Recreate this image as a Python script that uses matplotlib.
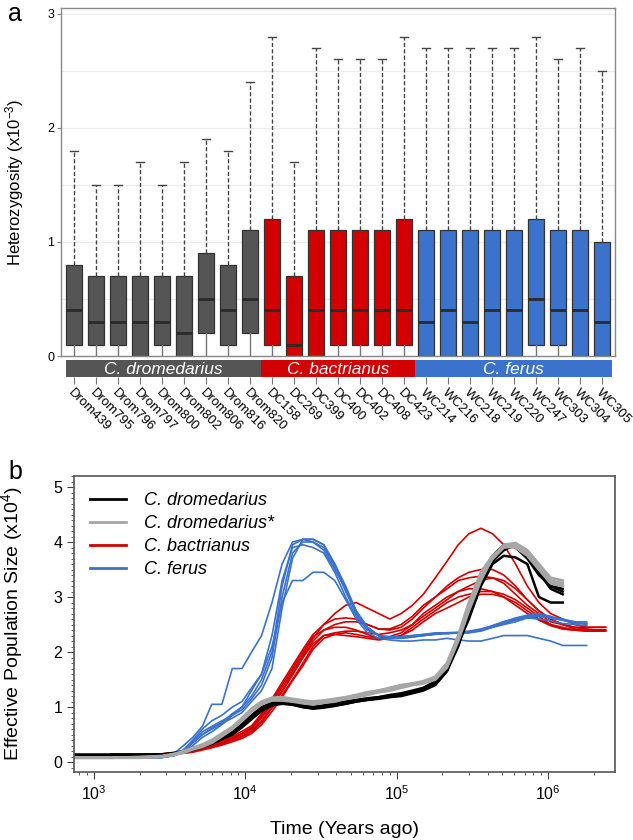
import matplotlib
matplotlib.use("Agg")
import matplotlib.pyplot as plt
from matplotlib.patches import Rectangle
from matplotlib.ticker import MultipleLocator, LogLocator, NullFormatter

plt.rcParams['font.family'] = ['Liberation Sans', 'DejaVu Sans']
plt.rcParams['mathtext.default'] = 'regular'

# ---------------- panel a: heterozygosity boxes ----------------
samples = ["Drom439", "Drom795", "Drom796", "Drom797", "Drom800", "Drom802", "Drom806", "Drom816", "Drom820",
           "DC158", "DC269", "DC399", "DC400", "DC402", "DC408", "DC423",
           "WC214", "WC216", "WC218", "WC219", "WC220", "WC247", "WC303", "WC304", "WC305"]
species = ["C. dromedarius", "C. bactrianus", "C. ferus"]
species_n = [9, 7, 9]
q1 = [0.1, 0.1, 0.1, 0.0, 0.1, 0.0, 0.2, 0.1, 0.2,
      0.1, 0.0, 0.0, 0.1, 0.1, 0.1, 0.1,
      0.0, 0.0, 0.0, 0.0, 0.0, 0.1, 0.1, 0.0, 0.0]
med = [0.4, 0.3, 0.3, 0.3, 0.3, 0.2, 0.5, 0.4, 0.5,
       0.4, 0.1, 0.4, 0.4, 0.4, 0.4, 0.4,
       0.3, 0.4, 0.3, 0.4, 0.4, 0.5, 0.4, 0.4, 0.3]
q3 = [0.8, 0.7, 0.7, 0.7, 0.7, 0.7, 0.9, 0.8, 1.1,
      1.2, 0.7, 1.1, 1.1, 1.1, 1.1, 1.2,
      1.1, 1.1, 1.1, 1.1, 1.1, 1.2, 1.1, 1.1, 1.0]
whi = [1.8, 1.5, 1.5, 1.7, 1.5, 1.7, 1.9, 1.8, 2.4,
       2.8, 1.7, 2.7, 2.6, 2.6, 2.6, 2.8,
       2.7, 2.7, 2.7, 2.7, 2.7, 2.8, 2.6, 2.7, 2.5]

col_drom = "#555555"
col_bact = "#d20000"
col_ferus = "#3a72cc"
species_cols = [col_drom, col_bact, col_ferus]

# ---------------- panel b: PSMC curves (time in years, Ne x10^4) ----------------
t_bf = [1300, 2000, 2800, 3400, 3900, 4500, 5200, 6000, 7000, 8200, 9500, 11000, 12800, 15000,
        17500, 20500, 24000, 28000, 33000, 39000, 46000, 54000, 64000, 76000, 90000, 107000,
        127000, 150000, 180000, 215000, 255000, 300000, 360000, 430000, 510000, 610000, 730000,
        870000, 1040000, 1250000, 1500000, 1800000]
t_red = t_bf + [2100000, 2400000]
t_drom = [700] + t_bf[:-2]

ferus = [
    [0.08, 0.08, 0.09, 0.13, 0.22, 0.38, 0.55, 0.65, 0.75, 0.85, 0.95, 1.15, 1.4, 1.9, 3.0, 3.8, 4.0, 4.0, 3.9, 3.55, 3.1,
     2.7, 2.45, 2.3, 2.25, 2.25, 2.27, 2.3, 2.32, 2.35, 2.35, 2.35, 2.38, 2.45, 2.5, 2.55, 2.62, 2.65, 2.62, 2.58, 2.52, 2.52],
    [0.08, 0.08, 0.1, 0.16, 0.3, 0.45, 0.65, 1.05, 1.05, 1.7, 1.7, 2.0, 2.3, 2.9, 3.6, 4.0, 4.05, 4.0, 3.85, 3.5, 3.15,
     2.75, 2.45, 2.3, 2.25, 2.28, 2.3, 2.32, 2.35, 2.35, 2.35, 2.35, 2.4, 2.48, 2.55, 2.6, 2.65, 2.68, 2.62, 2.58, 2.55, 2.55],
    [0.08, 0.08, 0.08, 0.12, 0.2, 0.35, 0.5, 0.6, 0.7, 0.8, 0.9, 1.1, 1.3, 1.7, 2.8, 3.7, 4.05, 4.05, 3.95, 3.6, 3.2,
     2.75, 2.45, 2.3, 2.25, 2.25, 2.28, 2.3, 2.33, 2.33, 2.35, 2.37, 2.4, 2.45, 2.52, 2.58, 2.63, 2.66, 2.63, 2.6, 2.55, 2.5],
    [0.08, 0.08, 0.09, 0.12, 0.18, 0.3, 0.45, 0.55, 0.68, 0.85, 1.0, 1.3, 1.6, 2.3, 3.3, 3.9, 3.95, 3.9, 3.8, 3.45, 3.0,
     2.65, 2.4, 2.3, 2.27, 2.26, 2.28, 2.3, 2.33, 2.35, 2.36, 2.38, 2.42, 2.48, 2.55, 2.6, 2.62, 2.6, 2.57, 2.52, 2.5, 2.48],
    [0.08, 0.08, 0.09, 0.13, 0.22, 0.4, 0.6, 0.75, 0.85, 1.0, 1.1, 1.35, 1.6, 2.1, 2.9, 3.3, 3.3, 3.45, 3.45, 3.3, 2.95,
     2.6, 2.35, 2.25, 2.22, 2.2, 2.2, 2.22, 2.22, 2.25, 2.22, 2.2, 2.2, 2.25, 2.3, 2.3, 2.3, 2.25, 2.2, 2.12, 2.12, 2.12],
    [0.08, 0.08, 0.08, 0.12, 0.2, 0.35, 0.5, 0.62, 0.72, 0.88, 1.0, 1.2, 1.5, 2.0, 3.2, 3.95, 4.05, 4.05, 3.95, 3.6, 3.15,
     2.7, 2.42, 2.3, 2.28, 2.28, 2.3, 2.32, 2.33, 2.35, 2.35, 2.36, 2.4, 2.46, 2.55, 2.62, 2.67, 2.7, 2.65, 2.58, 2.53, 2.52],
]

bactrianus = [
    [0.15, 0.15, 0.15, 0.17, 0.2, 0.24, 0.3, 0.33, 0.38, 0.44, 0.52, 0.62, 0.82, 1.1, 1.35, 1.65, 1.95, 2.25, 2.5, 2.7, 2.85,
     2.9, 2.8, 2.7, 2.6, 2.7, 2.85, 3.05, 3.35, 3.65, 3.95, 4.15, 4.25, 4.15, 3.95, 3.6, 3.2, 2.9, 2.7, 2.6, 2.5, 2.45, 2.45, 2.45],
    [0.15, 0.15, 0.15, 0.15, 0.18, 0.22, 0.27, 0.3, 0.35, 0.42, 0.5, 0.6, 0.8, 1.05, 1.3, 1.6, 1.9, 2.2, 2.4, 2.5, 2.55,
     2.55, 2.5, 2.42, 2.4, 2.45, 2.6, 2.8, 3.0, 3.2, 3.35, 3.45, 3.5, 3.5, 3.4, 3.2, 2.95, 2.75, 2.6, 2.5, 2.45, 2.42, 2.4, 2.4],
    [0.15, 0.15, 0.15, 0.15, 0.17, 0.2, 0.24, 0.28, 0.33, 0.4, 0.46, 0.55, 0.72, 0.98, 1.22, 1.5, 1.8, 2.1, 2.3, 2.35, 2.38,
     2.38, 2.35, 2.32, 2.35, 2.4, 2.5, 2.65, 2.8, 2.95, 3.1, 3.2, 3.3, 3.35, 3.3, 3.15, 2.95, 2.75, 2.6, 2.5, 2.42, 2.4, 2.4, 2.4],
    [0.15, 0.15, 0.15, 0.16, 0.18, 0.22, 0.27, 0.32, 0.38, 0.44, 0.52, 0.63, 0.85, 1.12, 1.4, 1.7, 2.0, 2.28, 2.4, 2.45, 2.45,
     2.4, 2.32, 2.25, 2.25, 2.3, 2.4, 2.55, 2.7, 2.8, 2.9, 3.0, 3.05, 3.05, 3.0, 2.9, 2.75, 2.6, 2.5, 2.42, 2.4, 2.38, 2.38, 2.38],
    [0.15, 0.15, 0.15, 0.15, 0.17, 0.19, 0.24, 0.28, 0.34, 0.4, 0.47, 0.57, 0.75, 1.0, 1.28, 1.58, 1.9, 2.15, 2.3, 2.32, 2.3,
     2.28, 2.25, 2.22, 2.25, 2.3, 2.45, 2.6, 2.75, 2.9, 3.0, 3.05, 3.1, 3.1, 3.05, 2.95, 2.8, 2.65, 2.5, 2.45, 2.4, 2.38, 2.38, 2.38],
    [0.15, 0.15, 0.15, 0.16, 0.19, 0.23, 0.28, 0.33, 0.4, 0.47, 0.56, 0.66, 0.88, 1.15, 1.45, 1.75, 2.05, 2.32, 2.5, 2.6, 2.62,
     2.6, 2.5, 2.42, 2.42, 2.5, 2.65, 2.85, 3.0, 3.15, 3.3, 3.35, 3.38, 3.35, 3.25, 3.05, 2.85, 2.7, 2.55, 2.5, 2.45, 2.45, 2.45, 2.45],
    [0.15, 0.15, 0.15, 0.15, 0.16, 0.18, 0.22, 0.26, 0.31, 0.37, 0.43, 0.52, 0.68, 0.92, 1.18, 1.48, 1.75, 2.05, 2.25, 2.32, 2.35,
     2.32, 2.28, 2.25, 2.28, 2.35, 2.5, 2.7, 2.85, 3.0, 3.1, 3.15, 3.15, 3.1, 3.0, 2.85, 2.7, 2.58, 2.48, 2.42, 2.4, 2.4, 2.4, 2.4],
]

dromedarius = [
    [0.13, 0.13, 0.13, 0.14, 0.17, 0.2, 0.25, 0.3, 0.35, 0.43, 0.52, 0.66, 0.82, 0.97, 1.05, 1.08, 1.05, 1.0, 0.98, 1.0, 1.03,
     1.06, 1.1, 1.13, 1.15, 1.18, 1.2, 1.25, 1.3, 1.4, 1.65, 2.15, 2.6, 3.2, 3.6, 3.75, 3.72, 3.6, 3.0, 2.9, 2.9],
    [0.13, 0.13, 0.12, 0.13, 0.15, 0.18, 0.22, 0.28, 0.33, 0.42, 0.5, 0.63, 0.78, 0.93, 1.03, 1.08, 1.06, 1.02, 1.0, 1.02, 1.05,
     1.08, 1.12, 1.15, 1.18, 1.2, 1.23, 1.28, 1.33, 1.45, 1.7, 2.2, 2.75, 3.3, 3.7, 3.9, 3.92, 3.75, 3.45, 3.2, 3.1],
    [0.13, 0.13, 0.13, 0.13, 0.16, 0.19, 0.24, 0.3, 0.36, 0.45, 0.55, 0.69, 0.85, 1.0, 1.08, 1.1, 1.07, 1.03, 1.0, 1.03, 1.07,
     1.1, 1.13, 1.16, 1.18, 1.22, 1.25, 1.3, 1.35, 1.47, 1.72, 2.25, 2.85, 3.4, 3.75, 3.95, 3.9, 3.7, 3.4, 3.2, 3.15],
    [0.13, 0.13, 0.13, 0.14, 0.15, 0.18, 0.23, 0.28, 0.34, 0.43, 0.53, 0.66, 0.8, 0.95, 1.03, 1.06, 1.04, 1.0, 0.97, 0.99, 1.02,
     1.06, 1.1, 1.13, 1.16, 1.19, 1.22, 1.27, 1.32, 1.43, 1.66, 2.1, 2.7, 3.25, 3.65, 3.85, 3.95, 3.8, 3.45, 3.15, 3.05],
]

dromedarius_star = [
    [0.08, 0.08, 0.08, 0.1, 0.14, 0.18, 0.25, 0.3, 0.38, 0.5, 0.62, 0.78, 0.95, 1.08, 1.15, 1.15, 1.12, 1.1, 1.08, 1.1, 1.13,
     1.17, 1.2, 1.25, 1.3, 1.33, 1.38, 1.42, 1.45, 1.52, 1.75, 2.25, 2.8, 3.35, 3.7, 3.92, 3.95, 3.8, 3.55, 3.3, 3.25],
    [0.08, 0.08, 0.09, 0.11, 0.15, 0.2, 0.26, 0.32, 0.4, 0.52, 0.64, 0.8, 0.97, 1.1, 1.17, 1.18, 1.15, 1.12, 1.1, 1.12, 1.15,
     1.18, 1.22, 1.27, 1.3, 1.35, 1.4, 1.43, 1.47, 1.55, 1.8, 2.3, 2.9, 3.45, 3.75, 3.92, 3.9, 3.75, 3.5, 3.25, 3.2],
    [0.08, 0.08, 0.08, 0.1, 0.13, 0.17, 0.23, 0.28, 0.35, 0.47, 0.6, 0.75, 0.92, 1.05, 1.12, 1.12, 1.1, 1.07, 1.05, 1.08, 1.1,
     1.15, 1.18, 1.22, 1.27, 1.3, 1.35, 1.4, 1.43, 1.5, 1.72, 2.2, 2.75, 3.3, 3.72, 3.95, 3.98, 3.85, 3.6, 3.35, 3.3],
    [0.08, 0.08, 0.09, 0.1, 0.14, 0.19, 0.24, 0.3, 0.37, 0.48, 0.6, 0.77, 0.93, 1.06, 1.14, 1.16, 1.13, 1.1, 1.08, 1.1, 1.12,
     1.16, 1.2, 1.24, 1.28, 1.32, 1.37, 1.41, 1.45, 1.53, 1.77, 2.27, 2.85, 3.38, 3.7, 3.9, 3.92, 3.78, 3.52, 3.28, 3.2],
]

W, H = 633, 840
fig = plt.figure(figsize=(W / 100, H / 100), dpi=100)

# ---- panel a ----
ax1 = fig.add_axes([61 / W, 1 - 356 / H, 554 / W, 348 / H])
pos = list(range(1, len(samples) + 1))
box_cols = []
for c, n in zip(species_cols, species_n):
    box_cols += [c] * n

stats = []
for i in range(len(samples)):
    stats.append(dict(q1=q1[i], med=med[i], q3=q3[i], whislo=0.0, whishi=whi[i], fliers=[]))

bp = ax1.bxp(stats, positions=pos, widths=0.76, patch_artist=True, showfliers=False,
             capwidths=0.36,
             boxprops=dict(edgecolor="#333333", linewidth=0.9),
             medianprops=dict(color="#2a2a2a", linewidth=2.0),
             whiskerprops=dict(color="#444444", linewidth=1.0, linestyle=(0, (3, 1.6))),
             capprops=dict(color="#444444", linewidth=1.0))
for patch, c in zip(bp['boxes'], box_cols):
    patch.set_facecolor(c)
for k, w in enumerate(bp['whiskers']):
    if k % 2 == 0:
        w.set_linestyle('-')
        w.set_color('#777777')
for k, cap in enumerate(bp['caps']):
    if k % 2 == 0:
        cap.set_visible(False)

ax1.set_xlim(0.41, 25.59)
ax1.set_ylim(0, 3.05)
ax1.set_yticks([0, 1, 2, 3])
ax1.set_yticks([0.5, 1.5, 2.5], minor=True)
ax1.grid(axis='y', which='both', color='#ececec', linewidth=0.9)
ax1.set_axisbelow(True)
ax1.set_xticks([])
ax1.tick_params(axis='y', which='major', length=3, color='#888888', labelsize=9, pad=2)
ax1.tick_params(axis='y', which='minor', length=0)
for s in ax1.spines.values():
    s.set_color('#888888')
    s.set_linewidth(1.0)
ax1.set_ylabel("Heterozygosity (x10$^{-3}$)", fontsize=12)
ax1.yaxis.set_label_coords(-0.064, 0.5)

# species band under panel a
axb = fig.add_axes([61 / W, 1 - 377 / H, 554 / W, 17 / H])
axb.set_xlim(0.41, 25.59)
axb.set_ylim(0, 1)
start = 0.64
for name, n, c in zip(species, species_n, species_cols):
    end = start + n if start > 1 else 0.5 + n
    if name == species[-1]:
        end = 25.45
    axb.add_patch(Rectangle((start, 0), end - start, 1, facecolor=c, edgecolor='none'))
    axb.text((start + end) / 2, 0.45, name, color='white', style='italic', fontsize=12.5,
             ha='center', va='center')
    start = end
for s in axb.spines.values():
    s.set_visible(False)
axb.set_yticks([])
axb.set_xticks(pos)
axb.set_xticklabels(samples, rotation=-45, ha='left', va='top', rotation_mode='anchor', fontsize=9.5)
axb.tick_params(axis='x', length=5, color='#777777', pad=2)

fig.text(8 / W, 1 - 2 / H, "a", fontsize=18, ha='left', va='top')

# ---- panel b ----
ax2 = fig.add_axes([74 / W, 1 - 772 / H, 541 / W, 296 / H])
ax2.set_xscale('log')
for y in bactrianus:
    ax2.plot(t_red, y, color=col_bact, lw=1.2)
for y in ferus:
    ax2.plot(t_bf, y, color=col_ferus, lw=1.2)
for y in dromedarius:
    ax2.plot(t_drom, y, color='black', lw=1.8)
for y in dromedarius_star:
    ax2.plot(t_drom, y, color='#a6a6a6', lw=2.0)

ax2.plot([], [], color='black', lw=2, label="C. dromedarius")
ax2.plot([], [], color='#a6a6a6', lw=2, label="C. dromedarius*")
ax2.plot([], [], color=col_bact, lw=2, label="C. bactrianus")
ax2.plot([], [], color=col_ferus, lw=2, label="C. ferus")
leg = ax2.legend(loc='upper left', frameon=False, fontsize=13, handlelength=2.0,
                 handletextpad=1.0, labelspacing=0.33, borderaxespad=0.5)
for t in leg.get_texts():
    t.set_style('italic')

ax2.set_xlim(738, 2.77e6)
ax2.set_ylim(-0.18, 5.2)
ax2.xaxis.set_major_locator(LogLocator(base=10, numticks=10))
ax2.xaxis.set_minor_locator(LogLocator(base=10, subs=range(2, 10), numticks=20))
ax2.xaxis.set_minor_formatter(NullFormatter())
ax2.yaxis.set_major_locator(MultipleLocator(1))
ax2.yaxis.set_minor_locator(MultipleLocator(0.1))
ax2.tick_params(which='major', length=5, color='#444444', labelsize=11.5)
ax2.tick_params(which='minor', length=2.5, color='#444444')
for s in ax2.spines.values():
    s.set_color('#555555')
    s.set_linewidth(1.2)
ax2.set_xlabel("Time (Years ago)", fontsize=14)
ax2.xaxis.set_label_coords(0.5, -0.165)
ax2.set_ylabel("Effective Population Size (x10$^4$)", fontsize=14)
ax2.yaxis.set_label_coords(-0.09, 0.5)

fig.text(8 / W, 1 - 460 / H, "b", fontsize=18, ha='left', va='top')

fig.savefig("out.png", dpi=100)
